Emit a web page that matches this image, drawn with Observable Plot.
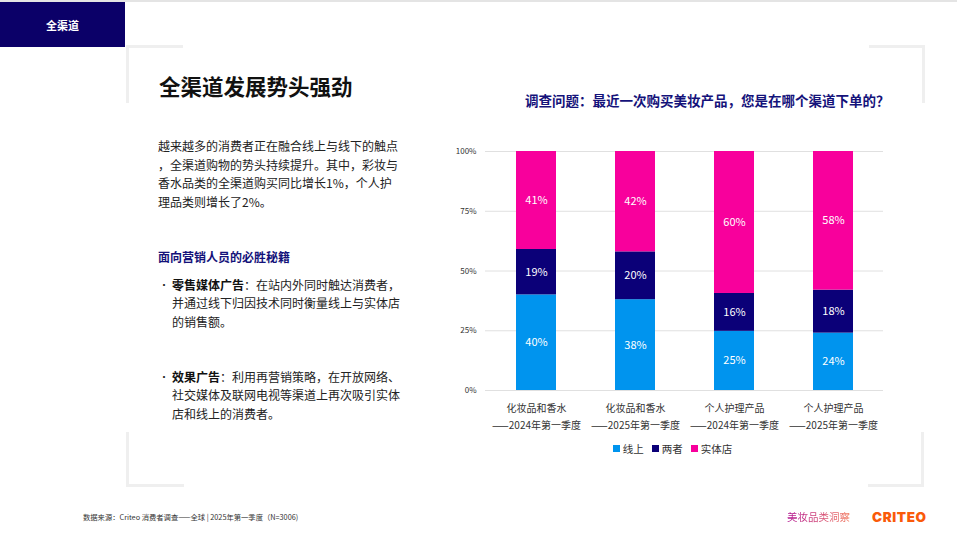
<!DOCTYPE html>
<html>
<head>
<meta charset="utf-8">
<script src="https://cdn.jsdelivr.net/npm/d3@7"></script>
<script src="https://cdn.jsdelivr.net/npm/@observablehq/plot@0.6"></script>
<style>
  html, body { margin: 0; padding: 0; background: #fff; }
  #page {
    position: relative; width: 957px; height: 539px; overflow: hidden; background: #fff;
    font-family: "Noto Sans CJK SC", "Noto Sans", sans-serif; color: #1a1a1a;
  }
  .abs { position: absolute; white-space: nowrap; }
  #topline { left: 0; top: 0; width: 957px; height: 2px; background: #e4e4e4; }
  #tag {
    left: 0; top: 2px; width: 125px; height: 45px; background: #0b0068; color: #fff;
    display: flex; align-items: center; justify-content: center; font-size: 11px; font-weight: 700;
  }
  .bracket { position: absolute; border-color: #efefef; border-style: solid; border-width: 0; }
  #title { left: 159px; top: 73px; font-size: 21.5px; line-height: 26px; font-weight: 700; color: #111; }
  #body { left: 158px; top: 137px; font-size: 12px; line-height: 18.5px; color: #222; }
  #sub { left: 158px; top: 248px; font-size: 12px; line-height: 18.5px; font-weight: 700; color: #14127a; }
  .bullet { left: 158px; font-size: 12px; line-height: 18.3px; color: #222; }
  .bullet .dot { position: absolute; left: 1px; top: 0; width: 10px; font-size: 10px; }
  .bullet .txt { position: absolute; left: 14px; top: 0; }
  .bullet b { font-weight: 700; color: #111; }
  #qtitle { left: 525px; top: 90px; font-size: 13.5px; line-height: 20px; font-weight: 700; color: #14127a; }
  #chart { left: 440px; top: 140px; }
  #legend {
    left: 540px; top: 440px; width: 265px; height: 16px; display: flex; justify-content: center;
    align-items: center; gap: 8px; font-size: 10.5px; color: #333;
  }
  #legend .item { display: flex; align-items: center; gap: 3px; }
  #legend .sw { width: 7px; height: 7px; display: inline-block; }
  #source { left: 83px; top: 512px; font-size: 7.3px; line-height: 10px; color: #333; }
  #brand {
    left: 787px; top: 509px; font-size: 10.5px; line-height: 16px;
    background: linear-gradient(90deg, #b0108e, #f27a5e); -webkit-background-clip: text; background-clip: text;
    color: transparent;
  }
  #criteo {
    left: 872px; top: 507px; font-family: Inter, "Open Sans", sans-serif; font-size: 13.5px; line-height: 20px;
    font-weight: 900; color: #fa5a0a; letter-spacing: 0.6px;
  }
</style>
</head>
<body>
<div id="page">
  <div class="abs" id="topline"></div>
  <div class="abs" id="tag">全渠道</div>

  <div class="bracket" style="left:126px;top:45px;width:54px;height:55px;border-top-width:3px;border-left-width:3px;"></div>
  <div class="bracket" style="left:869px;top:45px;width:53px;height:55px;border-top-width:3px;border-right-width:3px;"></div>
  <div class="bracket" style="left:126px;top:432px;width:55px;height:52px;border-bottom-width:3px;border-left-width:3px;"></div>
  <div class="bracket" style="left:868px;top:432px;width:53px;height:52px;border-bottom-width:3px;border-right-width:3px;"></div>

  <div class="abs" id="title">全渠道发展势头强劲</div>
  <div class="abs" id="body">越来越多的消费者正在融合线上与线下的触点<br>，全渠道购物的势头持续提升。其中，彩妆与<br>香水品类的全渠道购买同比增长1%，个人护<br>理品类则增长了2%。</div>
  <div class="abs" id="sub">面向营销人员的必胜秘籍</div>
  <div class="abs bullet" style="top:276px;">
    <span class="dot">•</span>
    <div class="txt"><b>零售媒体广告</b>：在站内外同时触达消费者，<br>并通过线下归因技术同时衡量线上与实体店<br>的销售额。</div>
  </div>
  <div class="abs bullet" style="top:368px;">
    <span class="dot">•</span>
    <div class="txt"><b>效果广告</b>：利用再营销策略，在开放网络、<br>社交媒体及联网电视等渠道上再次吸引实体<br>店和线上的消费者。</div>
  </div>

  <div class="abs" id="qtitle">调查问题：最近一次购买美妆产品，您是在哪个渠道下单的？</div>
  <div class="abs" id="chart"></div>
  <div class="abs" id="legend"></div>

  <div class="abs" id="source">数据来源：Criteo 消费者调查——全球 | 2025年第一季度（N=3006)</div>
  <div class="abs" id="brand">美妆品类洞察</div>
  <div class="abs" id="criteo">CRITEO</div>
</div>

<script>
// Survey groups (two-line axis labels)
const categories = [
  "化妆品和香水\n——2024年第一季度",
  "化妆品和香水\n——2025年第一季度",
  "个人护理产品\n——2024年第一季度",
  "个人护理产品\n——2025年第一季度"
];
// Purchase channels, bottom to top
const seriesNames = ["线上", "两者", "实体店"];
const seriesColors = ["#0094ee", "#0b0078", "#f8009c"];
// Share of respondents per channel (%)
const online = [40, 38, 25, 24];
const both = [19, 20, 16, 18];
const store = [41, 42, 60, 58];
const yTicks = [0, 0.25, 0.5, 0.75, 1];

const seriesValues = [online, both, store];
const rows = [];
seriesNames.forEach((s, i) => {
  categories.forEach((c, j) => rows.push({category: c, series: s, value: seriesValues[i][j]}));
});

const stack = (extra) => Plot.stackY({
  offset: "normalize", order: seriesNames,
  x: "category", y: "value", z: "series", ...extra
});

const chart = Plot.plot({
  width: 460,
  height: 300,
  marginLeft: 45,
  marginRight: 17,
  marginTop: 11,
  marginBottom: 50,
  style: {fontFamily: "'Noto Sans CJK SC', sans-serif", color: "#333", background: "transparent", overflow: "visible"},
  x: {domain: categories, paddingInner: 0.6, paddingOuter: 0.3, axis: null},
  y: {domain: [0, 1], axis: null},
  color: {domain: seriesNames, range: seriesColors},
  marks: [
    Plot.ruleY(yTicks, {stroke: "#e0e0e0", strokeWidth: 1}),
    Plot.barY(rows, stack({fill: "series"})),
    Plot.text(rows, stack({text: d => d.value + "%", fill: "white", fontSize: 11})),
    Plot.axisY(yTicks, {tickFormat: d3.format(".0%"), tickSize: 0, tickPadding: 9, fontSize: 8, label: null}),
    Plot.axisX({tickSize: 0, tickPadding: 10, fontSize: 10, lineHeight: 1.65, label: null})
  ]
});
document.getElementById("chart").appendChild(chart);

// Legend built from the same series and palette
const legend = document.getElementById("legend");
seriesNames.forEach((s, i) => {
  const item = document.createElement("span");
  item.className = "item";
  const sw = document.createElement("span");
  sw.className = "sw";
  sw.style.background = seriesColors[i];
  item.appendChild(sw);
  item.appendChild(document.createTextNode(s));
  legend.appendChild(item);
});
</script>
</body>
</html>
